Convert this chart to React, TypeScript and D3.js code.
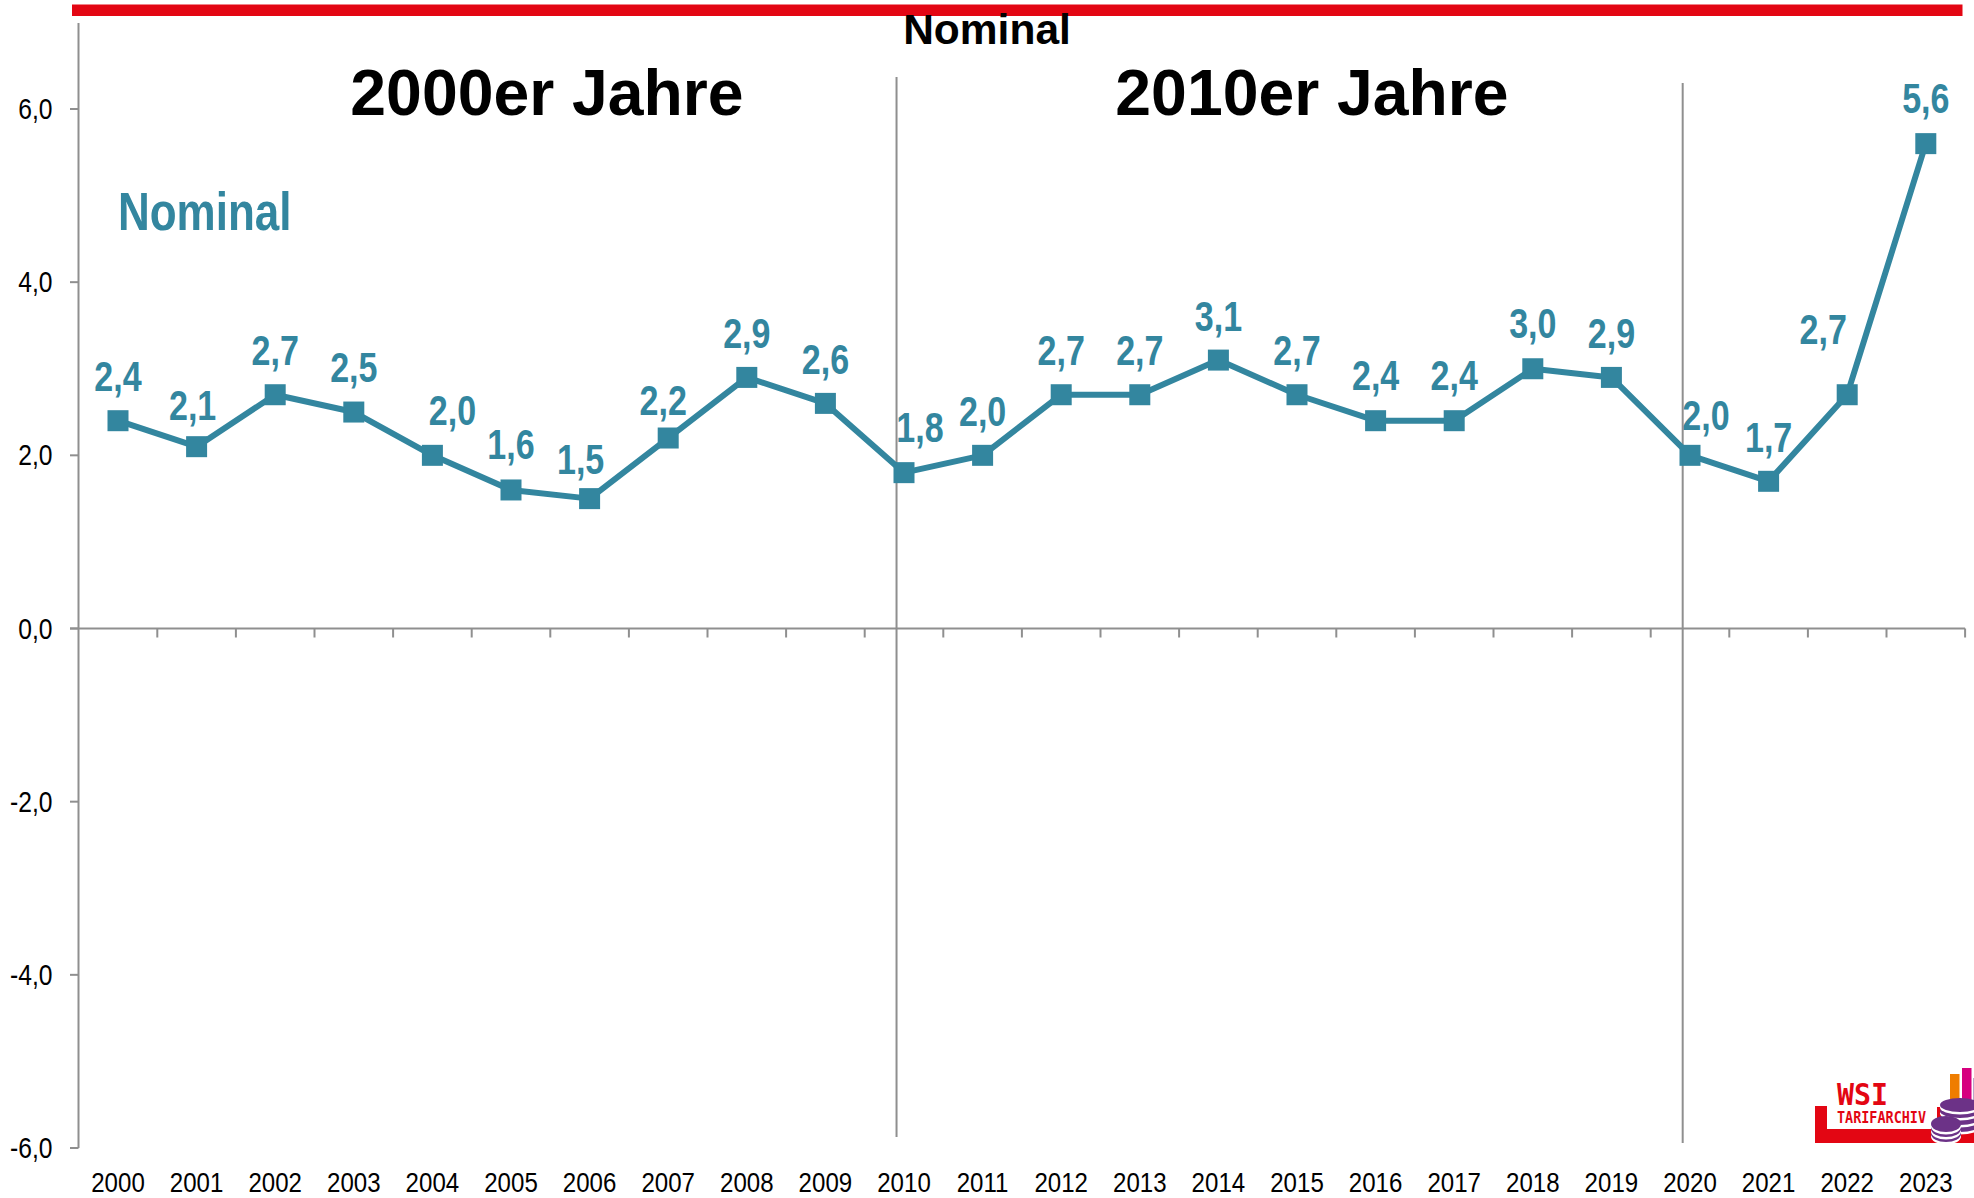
import React from "react";
import * as d3 from "d3";

const years = d3.range(2000, 2024).map(String);
const nominal = [2.4,2.1,2.7,2.5,2.0,1.6,1.5,2.2,2.9,2.6,1.8,2.0,2.7,2.7,3.1,2.7,2.4,2.4,3.0,2.9,2.0,1.7,2.7,5.6];
const labelDx = [0,-4,0,0,20,0,-9,-5,0,0,16,0,0,0,0,0,0,0,0,0,16,0,-24,0];
const labelDy = [-44,-41,-44,-45,-45,-45,-39,-38,-44,-44,-45,-44,-44,-44,-44,-44,-45,-45,-45,-44,-40,-44,-65,-45];
const yTicks = [6,4,2,0,-2,-4,-6];
const decades = [{ label: "2000er Jahre", x: 547 }, { label: "2010er Jahre", x: 1312 }];
const separators = [{ at: 9.905, top: 77, bottom: 1137 }, { at: 19.907, top: 83, bottom: 1143 }];

const TEAL = "#33869f";
const GREY = "#8f8f8f";
const RED = "#e30613";
const SANS = "'Liberation Sans',Arial,sans-serif";
const MONO = "'DejaVu Sans Mono',monospace";
const fmt = (v: number) => v.toFixed(1).replace(".", ",");

function Narrow(props: { x: number; y: number; size: number; sx?: number; anchor?: string; bold?: boolean; fill?: string; children: React.ReactNode }) {
  const { x, y, size, sx = 0.82, anchor = "middle", bold = false, fill = "#000", children } = props;
  return (
    <text
      transform={`translate(${x},${y}) scale(${sx},1)`}
      textAnchor={anchor}
      fontFamily={SANS}
      fontWeight={bold ? "bold" : "normal"}
      fontSize={size}
      fill={fill}
    >
      {children}
    </text>
  );
}

export default function App() {
  const x = d3.scaleLinear().domain([0, 23]).range([118, 1925.8]);
  const y = d3.scaleLinear().domain([-6, 6]).range([1148, 109]);
  const step = x(1) - x(0);
  const line = d3.line<number>().x((_, i) => x(i)).y((d) => y(d));
  const tickXs = d3.range(0, 25).map((i) => x(i) - step / 2);
  const coin = (cx: number, cy: number, rx: number, ry: number, layers: number[]) => (
    <g>
      {layers.map((dy) => (
        <g key={dy}>
          <ellipse cx={cx} cy={cy + dy + 2.5} rx={rx} ry={ry} fill="#fff" />
          <ellipse cx={cx} cy={cy + dy} rx={rx} ry={ry} fill="#6c3287" />
        </g>
      ))}
    </g>
  );
  return (
    <svg width={1974} height={1198} style={{ position: "fixed", left: 0, top: 0, background: "#fff" }}>
      <rect x={72} y={4.5} width={1890.5} height={11.5} fill={RED} />
      <text x={987} y={44} textAnchor="middle" fontFamily={SANS} fontWeight="bold" fontSize={42.5}>Nominal</text>

      <line x1={78.5} x2={78.5} y1={23} y2={1148} stroke={GREY} strokeWidth={2} />
      {yTicks.map((t) => (
        <g key={t}>
          <line x1={70} x2={78.5} y1={y(t)} y2={y(t)} stroke={GREY} strokeWidth={2} />
          <Narrow x={52.5} y={y(t) + 10} size={29} sx={0.85} anchor="end">{fmt(t)}</Narrow>
        </g>
      ))}
      <line x1={70} x2={tickXs[24]} y1={y(0)} y2={y(0)} stroke={GREY} strokeWidth={2} />
      {tickXs.slice(1).map((tx, i) => (
        <line key={i} x1={tx} x2={tx} y1={y(0)} y2={y(0) + 9} stroke={GREY} strokeWidth={2} />
      ))}
      {years.map((yr, i) => (
        <Narrow key={yr} x={x(i)} y={1192} size={28} sx={0.86}>{yr}</Narrow>
      ))}
      {separators.map((s) => (
        <line key={s.at} x1={x(s.at)} x2={x(s.at)} y1={s.top} y2={s.bottom} stroke={GREY} strokeWidth={2} />
      ))}
      {decades.map((d) => (
        <text key={d.label} x={d.x} y={115} textAnchor="middle" fontFamily={SANS} fontWeight="bold" fontSize={64.3}>{d.label}</text>
      ))}
      <Narrow x={118} y={230} size={53} sx={0.83} anchor="start" bold fill={TEAL}>Nominal</Narrow>

      <path d={line(nominal) || ""} fill="none" stroke={TEAL} strokeWidth={6} strokeLinejoin="round" />
      {nominal.map((v, i) => (
        <rect key={i} x={x(i) - 10.5} y={y(v) - 10.5} width={21} height={21} fill={TEAL} />
      ))}
      {nominal.map((v, i) => (
        <Narrow key={i} x={x(i) + labelDx[i]} y={y(v) + labelDy[i] + 14.5} size={42} sx={0.81} bold fill={TEAL}>{fmt(v)}</Narrow>
      ))}

      <g>
        <rect x={1950} y={1074} width={9.5} height={36} fill="#ef7d00" />
        <rect x={1962} y={1068} width={9.5} height={42} fill="#d6007f" />
        <rect x={1973} y={1078} width={1} height={32} fill="#b9a6c9" />
        <path d="M1815 1106H1827V1129H1937V1107H1974V1143H1815Z" fill={RED} />
        <text x={1837} y={1105} fontFamily={MONO} fontWeight="bold" fontSize={31} fill={RED} textLength={51} lengthAdjust="spacingAndGlyphs">WSI</text>
        <text x={1837} y={1123} fontFamily={MONO} fontWeight="bold" fontSize={16} fill={RED} textLength={89} lengthAdjust="spacingAndGlyphs">TARIFARCHIV</text>
        {coin(1960, 1105, 20, 7, [20, 13, 6, 0])}
        {coin(1946, 1124, 15, 8, [10, 5, 0])}
      </g>
    </svg>
  );
}
